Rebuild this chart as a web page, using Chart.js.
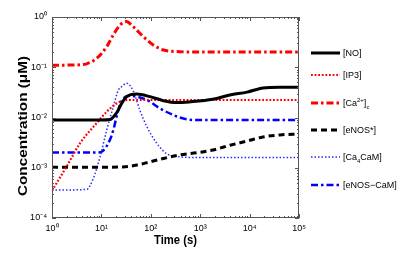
<!DOCTYPE html>
<html>
<head>
<meta charset="utf-8">
<script src="https://cdn.jsdelivr.net/npm/chart.js@4.4.1/dist/chart.umd.min.js"></script>
<style>
html,body{margin:0;padding:0;background:#fff;}
#wrap{position:relative;width:400px;height:256px;overflow:hidden;}
#chart{position:absolute;left:0;top:0;}
#legend{position:absolute;left:0;top:0;width:400px;height:256px;pointer-events:none;
  font-family:"Liberation Sans",Arial,Helvetica,sans-serif;font-size:9px;color:#000;}
.item{position:absolute;left:311px;height:14px;display:flex;align-items:center;white-space:nowrap;}
.item svg{display:block;width:29px;height:6px;flex:none;}
.item span{margin-left:3px;line-height:9px;}
.item sup{font-size:6px;vertical-align:4px;line-height:0;}
.item sub{font-size:6px;vertical-align:-3px;line-height:0;}
</style>
</head>
<body>
<div id="wrap">
  <canvas id="chart" width="400" height="256"></canvas>
  <div id="legend"></div>
</div>
<script>
// ---------- data ----------
const seriesNames = ['[NO]', '[IP3]', '[Ca<sup>2+</sup>]<sub>c</sub>', '[eNOS*]', '[Ca<sub>4</sub>CaM]', '[eNOS\u2212CaM]'];

const noTime   = [1, 10, 15, 20, 25.7, 32.5, 52, 96, 180, 334, 620, 1800, 4000, 8900, 18700, 41000, 100000];
const noConc   = [0.0089, 0.0089, 0.0091, 0.0121, 0.019, 0.026, 0.0294, 0.026, 0.0216, 0.0198, 0.0205, 0.023, 0.028, 0.032, 0.0386, 0.040, 0.040];

const ip3Time  = [1, 2, 3.7, 8, 12.8, 20.4, 32.5, 60, 100, 1000, 100000];
const ip3Conc  = [0.00035, 0.00108, 0.0031, 0.0077, 0.013, 0.019, 0.0223, 0.0223, 0.0223, 0.0223, 0.0223];

const caTime   = [1, 3, 5, 8, 12.8, 17.4, 23.8, 32, 44, 70, 112, 180, 390, 1000, 10000, 100000];
const caConc   = [0.11, 0.111, 0.117, 0.15, 0.256, 0.44, 0.69, 0.81, 0.64, 0.41, 0.277, 0.22, 0.204, 0.2, 0.2, 0.2];

const enosTime = [1, 10, 27, 52, 96, 179, 390, 900, 1800, 4000, 8900, 18700, 41000, 100000];
const enosConc = [0.00102, 0.00102, 0.00104, 0.00113, 0.00131, 0.00153, 0.0018, 0.002, 0.00225, 0.0028, 0.0034, 0.0041, 0.0045, 0.0047];

const ca4Time  = [1, 5, 6.9, 9.4, 12.8, 17.4, 22, 25.7, 32.5, 44, 60, 83, 131, 210, 334, 1000, 100000];
const ca4Conc  = [0.00036, 0.00037, 0.00062, 0.00166, 0.0056, 0.0164, 0.035, 0.041, 0.048, 0.034, 0.014, 0.0066, 0.0031, 0.0019, 0.00167, 0.0016, 0.0016];

const ecTime   = [1, 8, 10.9, 14.9, 17.4, 22, 27.7, 38, 83, 153, 286, 535, 1000, 100000];
const ecConc   = [0.002, 0.002, 0.0022, 0.0036, 0.0056, 0.0141, 0.024, 0.027, 0.0223, 0.0152, 0.0112, 0.0092, 0.0089, 0.0089];

const xTickValues = [1, 10, 100, 1000, 10000, 100000];
const xTickLabels = ['10\u2070', '10\u00b9', '10\u00b2', '10\u00b3', '10\u2074', '10\u2075'];
const yTickValues = [0.0001, 0.001, 0.01, 0.1, 1];
const yTickLabels = ['10\u207b\u2074', '10\u207b\u00b3', '10\u207b\u00b2', '10\u207b\u00b9', '10\u2070'];

const xTitle = 'Time (s)';
const yTitle = 'Concentration (\u03bcM)';

// ---------- styles ----------
const FONT = '"Liberation Sans", Arial, Helvetica, sans-serif';
const styles = [
  {color:'#000000', width:3,   dash:[]},
  {color:'#ff0000', width:2.2, dash:[1.8, 1.8]},
  {color:'#ff0000', width:3,   dash:[7, 3, 2.5, 3]},
  {color:'#000000', width:3,   dash:[6, 4]},
  {color:'#2a2aff', width:1.5, dash:[1.5, 2]},
  {color:'#0000ff', width:2.5, dash:[7, 3, 2.5, 3]}
];
const legendRowY = [53, 75, 103, 130, 157, 185];

const pairs = [[noTime, noConc], [ip3Time, ip3Conc], [caTime, caConc], [enosTime, enosConc], [ca4Time, ca4Conc], [ecTime, ecConc]];

const datasets = pairs.map((p, i) => ({
  label: seriesNames[i].replace(/<[^>]+>/g, ''),
  data: p[0].map((t, j) => ({x: t, y: p[1][j]})),
  borderColor: styles[i].color,
  backgroundColor: styles[i].color,
  borderWidth: styles[i].width,
  borderDash: styles[i].dash,
  borderCapStyle: 'butt',
  pointRadius: 0,
  fill: false,
  cubicInterpolationMode: 'monotone'
}));

function labelFor(values, labels, v) {
  const k = values.findIndex(t => Math.abs(t - v) <= 1e-9 * Math.max(1, t));
  return k >= 0 ? labels[k] : '';
}

const frameTicks = {
  id: 'frameTicks',
  afterDraw(chart) {
    const {ctx, chartArea: a, scales: {x, y}} = chart;
    ctx.save();
    ctx.strokeStyle = '#555';
    ctx.lineWidth = 1;
    ctx.strokeRect(Math.round(a.left) + 0.5, Math.round(a.top) + 0.5,
                   Math.round(a.right - a.left) - 1, Math.round(a.bottom - a.top) - 1);
    ctx.beginPath();
    for (let d = 0; d <= 5; d++) {
      for (let k = 1; k <= 9; k++) {
        const v = k * Math.pow(10, d);
        if (v > 100000) continue;
        const px = Math.round(x.getPixelForValue(v)) + 0.5;
        const len = k === 1 ? 4 : 2;
        ctx.moveTo(px, a.bottom); ctx.lineTo(px, a.bottom - len);
        ctx.moveTo(px, a.top); ctx.lineTo(px, a.top + len);
      }
    }
    for (let d = -4; d <= 0; d++) {
      for (let k = 1; k <= 9; k++) {
        const v = k * Math.pow(10, d);
        if (v > 1.0000001) continue;
        const py = Math.round(y.getPixelForValue(v)) + 0.5;
        const len = k === 1 ? 4 : 2;
        ctx.moveTo(a.left, py); ctx.lineTo(a.left + len, py);
        ctx.moveTo(a.right, py); ctx.lineTo(a.right - len, py);
      }
    }
    ctx.stroke();

    // axis titles
    ctx.fillStyle = '#000';
    ctx.textAlign = 'center';
    ctx.textBaseline = 'middle';
    ctx.font = 'bold 12px ' + FONT;
    let w = ctx.measureText(xTitle).width;
    ctx.save();
    ctx.translate((a.left + a.right) / 2, 241);
    ctx.scale(43 / w, 1);
    ctx.fillText(xTitle, 0, 0);
    ctx.restore();

    ctx.font = 'bold 13px ' + FONT;
    w = ctx.measureText(yTitle).width;
    ctx.save();
    ctx.translate(23, 126);
    ctx.rotate(-Math.PI / 2);
    ctx.scale(140 / w, 1);
    ctx.fillText(yTitle, 0, 0);
    ctx.restore();
    ctx.restore();
  }
};

const chart = new Chart(document.getElementById('chart'), {
  type: 'line',
  data: {datasets},
  options: {
    responsive: false,
    animation: false,
    events: [],
    layout: {padding: {left: 0, top: 17, right: 101, bottom: 0}},
    plugins: {legend: {display: false}, title: {display: false}, tooltip: {enabled: false}},
    scales: {
      x: {
        type: 'logarithmic', min: 1, max: 100000,
        afterBuildTicks: s => { s.ticks = xTickValues.map(v => ({value: v, major: true})); },
        afterFit: s => { s.height = 38; },
        ticks: {autoSkip: false, maxRotation: 0, minRotation: 0, padding: 5, color: '#000',
                font: {family: FONT, size: 9},
                callback: v => labelFor(xTickValues, xTickLabels, v)},
        grid: {display: true, drawOnChartArea: false, drawTicks: false},
        border: {display: false}
      },
      y: {
        type: 'logarithmic', min: 0.0001, max: 1,
        afterBuildTicks: s => { s.ticks = yTickValues.map(v => ({value: v, major: true})); },
        afterFit: s => { s.width = 52; },
        ticks: {autoSkip: false, padding: 5, color: '#000',
                font: {family: FONT, size: 9},
                callback: v => labelFor(yTickValues, yTickLabels, v)},
        grid: {display: true, drawOnChartArea: false, drawTicks: false},
        border: {display: false}
      }
    }
  },
  plugins: [frameTicks]
});

// ---------- legend ----------
const legend = document.getElementById('legend');
seriesNames.forEach((name, i) => {
  const st = styles[i];
  const item = document.createElement('div');
  item.className = 'item';
  item.style.top = (legendRowY[i] - 7) + 'px';
  const dash = st.dash.length ? st.dash.join(',') : 'none';
  item.innerHTML = '<svg viewBox="0 0 29 6"><line x1="0" y1="3" x2="29" y2="3" stroke="' + st.color +
    '" stroke-width="' + st.width + '" stroke-dasharray="' + dash + '"/></svg><span>' + name + '</span>';
  legend.appendChild(item);
});
</script>
</body>
</html>
